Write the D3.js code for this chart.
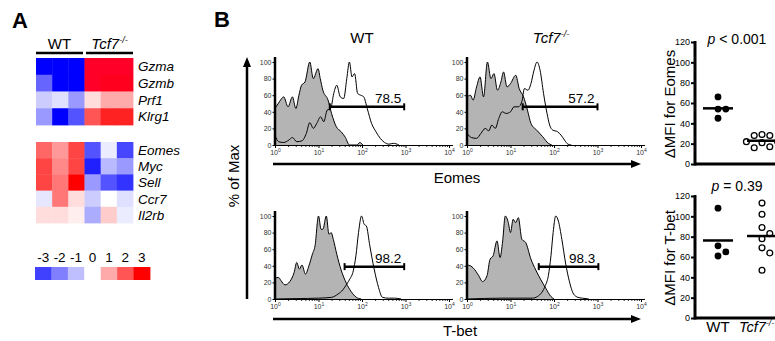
<!DOCTYPE html>
<html>
<head>
<meta charset="utf-8">
<script src="https://cdn.jsdelivr.net/npm/d3@7"></script>
<style>
  body { margin: 0; background: #fff; }
  svg { display: block; font-family: "Liberation Sans", Arial, sans-serif; }
</style>
</head>
<body>
<svg id="fig" width="775" height="341"></svg>
<script>
// Panel A heatmap: z-scores, columns are 3 WT then 3 Tcf7-/- samples
const samples = ['WT', 'WT', 'WT', 'Tcf7', 'Tcf7', 'Tcf7']
const effectorGenes = ['Gzma', 'Gzmb', 'Prf1', 'Klrg1']
const effectorZ = [
  [-4, -4, -4, 3.8, 3.8, 3.8],
  [-2.4, -4, -4, 3.8, 3.6, 3.6],
  [-0.8, -0.5, -1.6, 0.4, 1, 1],
  [-1.6, -4, -2.7, 2, 2.6, 2.6]
]
const memoryGenes = ['Eomes', 'Myc', 'Sell', 'Ccr7', 'Il2rb']
const memoryZ = [
  [1.8, 1.2, 2.2, -2.7, -0.3, -2.9],
  [2.2, 1.4, 2.2, -3.5, -1.1, -1.6],
  [2.2, 1.6, 3, -1.6, -2.7, -3.2],
  [-0.4, 1.6, 0.4, -0.8, 0, -0.5],
  [0.4, 0.4, 0.2, -1.3, 0.6, -0.3]
]
const legendSteps = [-3, -2, -1, 0, 1, 2, 3]

// Panel B histograms: [log10 fluorescence, % of max]
const eomesWTIso = [[0, 44], [0.1, 52], [0.2, 58], [0.3, 46], [0.4, 58], [0.48, 44], [0.55, 60], [0.61, 72], [0.69, 76], [0.8, 100], [0.88, 80], [0.99, 92], [1.04, 80], [1.1, 66], [1.22, 54], [1.3, 38], [1.41, 22], [1.52, 16], [1.62, 9], [1.71, 0], [1.88, 0], [1.95, 3], [2.02, 0]]
const eomesWTStain = [[0, 12], [0.08, 4], [0.2, 3], [0.32, 6], [0.4, 9], [0.5, 4], [0.62, 5], [0.72, 14], [0.8, 27], [0.88, 20], [0.96, 26], [1.05, 34], [1.12, 28], [1.2, 42], [1.28, 44], [1.35, 62], [1.42, 72], [1.5, 58], [1.58, 56], [1.65, 80], [1.71, 100], [1.77, 82], [1.83, 86], [1.9, 62], [1.97, 60], [2.04, 58], [2.12, 44], [2.22, 26], [2.32, 16], [2.42, 8], [2.52, 3], [2.62, 1], [2.72, 2], [2.85, 0]]
const eomesKOIso = [[0, 58], [0.08, 60], [0.14, 54], [0.22, 70], [0.3, 82], [0.38, 58], [0.47, 100], [0.55, 80], [0.62, 86], [0.7, 66], [0.78, 76], [0.84, 88], [0.92, 70], [1.0, 74], [1.12, 84], [1.2, 68], [1.3, 58], [1.39, 42], [1.47, 26], [1.6, 18], [1.74, 10], [1.87, 2], [1.95, 0]]
const eomesKOStain = [[0, 14], [0.1, 9], [0.22, 8], [0.32, 14], [0.42, 20], [0.5, 17], [0.57, 24], [0.65, 20], [0.73, 32], [0.81, 40], [0.9, 38], [1.0, 40], [1.08, 46], [1.18, 46], [1.26, 52], [1.32, 68], [1.4, 66], [1.47, 74], [1.54, 90], [1.61, 100], [1.68, 90], [1.76, 62], [1.84, 38], [1.9, 24], [1.97, 18], [2.08, 16], [2.16, 12], [2.24, 6], [2.32, 1], [2.4, 0]]
const tbetWTIso = [[0, 25], [0.08, 26], [0.14, 22], [0.23, 17], [0.34, 21], [0.44, 32], [0.5, 44], [0.56, 36], [0.62, 41], [0.7, 30], [0.78, 40], [0.86, 54], [0.92, 64], [1.0, 100], [1.06, 84], [1.1, 84], [1.18, 100], [1.24, 78], [1.29, 80], [1.34, 72], [1.42, 54], [1.52, 35], [1.64, 19], [1.75, 9], [1.87, 2], [1.98, 0]]
const tbetWTStain = [[0, 0], [0.5, 0.5], [1.0, 1], [1.3, 2], [1.45, 6], [1.56, 11], [1.65, 18], [1.72, 24], [1.8, 34], [1.86, 52], [1.92, 80], [1.99, 100], [2.05, 90], [2.1, 88], [2.18, 64], [2.28, 36], [2.38, 14], [2.47, 2], [2.6, 1], [2.75, 1], [2.9, 0]]
const tbetKOIso = [[0, 41], [0.08, 40], [0.15, 37], [0.26, 29], [0.36, 21], [0.46, 28], [0.53, 48], [0.6, 52], [0.69, 70], [0.76, 50], [0.82, 70], [0.88, 100], [0.95, 92], [1.0, 80], [1.06, 96], [1.12, 92], [1.18, 98], [1.26, 72], [1.35, 68], [1.47, 48], [1.58, 35], [1.7, 23], [1.81, 13], [1.93, 3], [2.0, 0]]
const tbetKOStain = [[0, 0], [0.8, 1], [1.5, 1], [1.62, 3], [1.72, 8], [1.8, 16], [1.87, 28], [1.93, 52], [1.98, 80], [2.04, 100], [2.1, 94], [2.18, 72], [2.27, 42], [2.35, 22], [2.45, 6], [2.55, 2], [2.65, 1], [2.8, 0]]

const gateLabels = ['78.5', '57.2', '98.2', '98.3']
const gateFrom = [1.26, 1.28, 1.6, 1.65] // log10
const gateTo = [2.97, 3.0, 2.97, 3.02]
const gateLevel = [46, 46, 39, 39] // % of max
const decades = [0, 1, 2, 3, 4]
const pctTicks = [0, 20, 40, 60, 80, 100]

// Panel B scatter: delta MFI per mouse
const eomesMfiWT = [66, 54, 54, 45]
const eomesMfiKO = [29, 28, 28, 22, 22, 21, 17, 16]
const tbetMfiWT = [108, 71, 65, 61]
const tbetMfiKO = [113, 102, 89, 83, 78, 69, 64, 47]
const mfiTicks = [0, 20, 40, 60, 80, 100, 120]
const pValues = ['< 0.001', '= 0.39']

const svg = d3.select('#fig')

// helper for "Tcf7-/-"
function tcf7(sel, size) {
  sel.append('tspan').style('font-style', 'italic').text('Tcf7')
  sel.append('tspan').style('font-style', 'italic').style('font-size', size * 0.6 + 'px')
    .attr('dy', -size * 0.42).text('-/-')
}

// ---------- Panel A ----------
svg.append('text').attr('x', 12).attr('y', 28)
  .style('font-weight', 'bold').style('font-size', '22px').text('A')

const colX = d3.scaleBand().domain(d3.range(samples.length)).range([36, 133])
const zColor = d3.scaleLinear()
  .domain([-4, 0, 3, 4])
  .range(['#0000ff', '#ffffff', '#ff0000', '#ff0033'])
  .clamp(true)

// group headers
const groupNames = ['WT', 'Tcf7']
groupNames.forEach((g, gi) => {
  const idx = samples.map((s, i) => s === g ? i : -1).filter(i => i >= 0)
  const x1 = colX(idx[0]) + (gi ? 1.5 : 0)
  const x2 = colX(idx[idx.length - 1]) + colX.bandwidth() - (gi ? 0 : 1.5)
  svg.append('line').attr('x1', x1).attr('x2', x2).attr('y1', 53).attr('y2', 53)
    .attr('stroke', '#000').attr('stroke-width', 2.5)
  const t = svg.append('text').attr('x', (x1 + x2) / 2).attr('y', 49)
    .attr('text-anchor', 'middle').style('font-size', '15px')
  if (g === 'WT') t.text('WT')
  else tcf7(t, 15)
})

function heatBlock(genes, z, top, bottom) {
  const rowY = d3.scaleBand().domain(genes).range([top, bottom])
  const rows = svg.append('g').selectAll('g').data(z).join('g')
    .attr('transform', (d, i) => `translate(0,${rowY(genes[i])})`)
  rows.selectAll('rect').data(d => d).join('rect')
    .attr('x', (d, i) => colX(i))
    .attr('width', colX.bandwidth() + 0.4)
    .attr('height', rowY.bandwidth() + 0.4)
    .attr('fill', d => zColor(d))
  svg.append('g').selectAll('text').data(genes).join('text')
    .attr('x', 138)
    .attr('y', d => rowY(d) + rowY.bandwidth() / 2)
    .attr('dy', '0.36em')
    .style('font-style', 'italic').style('font-size', '13.5px')
    .text(d => d)
}
heatBlock(effectorGenes, effectorZ, 58, 125)
heatBlock(memoryGenes, memoryZ, 142, 223)

// colour key
const keyX = d3.scaleBand().domain(legendSteps).range([35, 150])
svg.append('g').selectAll('rect').data(legendSteps).join('rect')
  .attr('x', d => keyX(d)).attr('y', 267)
  .attr('width', keyX.bandwidth() + 0.4).attr('height', 13)
  .attr('fill', d => zColor(d))
svg.append('g').selectAll('text').data(legendSteps).join('text')
  .attr('x', d => keyX(d) + keyX.bandwidth() / 2).attr('y', 262)
  .attr('text-anchor', 'middle').style('font-size', '13.5px')
  .text(d => d)

// ---------- Panel B histograms ----------
svg.append('text').attr('x', 214).attr('y', 27)
  .style('font-weight', 'bold').style('font-size', '22px').text('B')

const colLeft = [275, 467]
const rowBottom = [145, 299]
const histW = 174
const histH = 83

const panels = [
  { iso: eomesWTIso, stain: eomesWTStain, c: 0, r: 0 },
  { iso: eomesKOIso, stain: eomesKOStain, c: 1, r: 0 },
  { iso: tbetWTIso, stain: tbetWTStain, c: 0, r: 1 },
  { iso: tbetKOIso, stain: tbetKOStain, c: 1, r: 1 }
]

panels.forEach((p, i) => {
  const x = d3.scaleLinear().domain([0, 4]).range([colLeft[p.c], colLeft[p.c] + histW])
  const y = d3.scaleLinear().domain([0, 100]).range([rowBottom[p.r], rowBottom[p.r] - histH])
  const g = svg.append('g')

  const area = d3.area().x(d => x(d[0])).y0(y(0)).y1(d => y(d[1])).curve(d3.curveMonotoneX)
  const line = d3.line().x(d => x(d[0])).y(d => y(d[1])).curve(d3.curveMonotoneX)

  g.append('path').datum(p.iso).attr('d', area).attr('fill', '#b4b4b4')
  g.append('path').datum(p.iso).attr('d', line)
    .attr('fill', 'none').attr('stroke', '#000').attr('stroke-width', 1)
  g.append('path').datum(p.stain).attr('d', line)
    .attr('fill', 'none').attr('stroke', '#000').attr('stroke-width', 1)

  // minor log ticks
  const minor = []
  decades.slice(0, -1).forEach(dd => d3.range(2, 10).forEach(m => minor.push(dd + Math.log10(m))))
  g.append('g').attr('transform', `translate(0,${y(0)})`)
    .call(d3.axisBottom(x).tickValues(minor).tickSize(2).tickFormat(''))
    .call(a => a.select('.domain').remove())
    .selectAll('line').attr('stroke', '#333')

  const xa = g.append('g').attr('transform', `translate(0,${y(0)})`)
    .call(d3.axisBottom(x).tickValues(decades).tickSize(3).tickSizeOuter(0).tickPadding(2))
  xa.select('.domain').attr('d', `M${x(0)},0.5H${x(4) + 4}`).attr('stroke', '#000')
  xa.selectAll('.tick text')
    .style('font-size', '7px').attr('fill', '#333').text(null)
    .each(function(d) {
      const t = d3.select(this)
      t.append('tspan').text('10')
      t.append('tspan').attr('dy', -3).style('font-size', '5px').text(d)
    })

  const ya = g.append('g').attr('transform', `translate(${x(0)},0)`)
    .call(d3.axisLeft(y).tickValues(pctTicks).tickSize(2.5).tickSizeOuter(0).tickPadding(1))
  ya.select('.domain').attr('d', `M0,${y(0)}V${y(100) - 5}`)
    .attr('stroke', '#000').attr('stroke-width', 2.5)
  ya.selectAll('.tick text').style('font-size', '7px').attr('fill', '#333')

  // gate
  const gy = y(gateLevel[i])
  const gx1 = x(gateFrom[i])
  const gx2 = x(gateTo[i])
  g.append('line').attr('x1', gx1).attr('x2', gx2).attr('y1', gy).attr('y2', gy)
    .attr('stroke', '#000').attr('stroke-width', 2.5)
  ;[gx1, gx2].forEach(gx => {
    g.append('line').attr('x1', gx).attr('x2', gx).attr('y1', gy - 3.5).attr('y2', gy + 3.5)
      .attr('stroke', '#000').attr('stroke-width', 2)
  })
  g.append('text').attr('x', gx2 - 3).attr('y', gy - 4)
    .attr('text-anchor', 'end').style('font-size', '13.5px').text(gateLabels[i])
})

// column titles
svg.append('text').attr('x', 362).attr('y', 43).attr('text-anchor', 'middle')
  .style('font-size', '15px').text('WT')
tcf7(svg.append('text').attr('x', 551).attr('y', 43).attr('text-anchor', 'middle')
  .style('font-size', '15px'), 15)

// arrows
const arrow = svg.append('g').attr('fill', '#000').attr('stroke', '#000')
arrow.append('line').attr('x1', 247).attr('x2', 247).attr('y1', 299).attr('y2', 64)
  .attr('stroke-width', 2.5)
arrow.append('path').attr('d', 'M247,57L243,67L251,67Z').attr('stroke', 'none')
;[164, 319].forEach(yy => {
  arrow.append('line').attr('x1', 273).attr('x2', 633).attr('y1', yy).attr('y2', yy)
    .attr('stroke-width', 2.5)
  arrow.append('path').attr('d', `M641,${yy}L631,${yy - 4}L631,${yy + 4}Z`).attr('stroke', 'none')
})

svg.append('text').attr('transform', 'translate(239,176) rotate(-90)')
  .attr('text-anchor', 'middle').style('font-size', '15px').text('% of Max')
svg.append('text').attr('x', 457).attr('y', 183).attr('text-anchor', 'middle')
  .style('font-size', '15px').text('Eomes')
svg.append('text').attr('x', 460).attr('y', 336).attr('text-anchor', 'middle')
  .style('font-size', '15px').text('T-bet')

// ---------- Panel B scatter ----------
function dodge(values, y, r) {
  const placed = []
  const step = 2 * r + 1
  return values.map(v => {
    const py = y(v)
    let dx = 0
    for (const k of [0, 1, -1, 2, -2, 3, -3]) {
      dx = k * step
      if (placed.every(q => Math.hypot(q[0] - dx, q[1] - py) >= 2 * r + 0.5)) break
    }
    placed.push([dx, py])
    return [dx, py]
  })
}

function scatter(yb, wt, ko, pText, pShift, label, showX) {
  const y = d3.scaleLinear().domain([0, 120]).range([yb, yb - 122])
  const x = d3.scalePoint().domain(groupNames).range([696, 784]).padding(0.5)
  const g = svg.append('g')
  const r = 3.4

  // x axis
  g.append('line').attr('x1', 695).attr('x2', 790).attr('y1', yb).attr('y2', yb)
    .attr('stroke', '#000').attr('stroke-width', 3)

  const ya = g.append('g').attr('transform', 'translate(695,0)')
    .call(d3.axisLeft(y).tickValues(mfiTicks).tickSize(4).tickSizeOuter(0).tickPadding(1))
  ya.select('.domain').attr('d', `M0,${yb + 1.5}V${y(120) - 1}`)
    .attr('stroke', '#000').attr('stroke-width', 3)
  ya.selectAll('.tick line').attr('stroke-width', 2)
  ya.selectAll('.tick text').style('font-size', '9px').attr('fill', '#000')

  ;[wt, ko].forEach((vals, gi) => {
    const cx = x(groupNames[gi])
    const pos = dodge(vals, y, r)
    g.append('g').selectAll('circle').data(pos).join('circle')
      .attr('cx', d => cx + d[0]).attr('cy', d => d[1]).attr('r', gi ? r - 0.5 : r)
      .attr('fill', gi ? '#fff' : '#000')
      .attr('stroke', '#000').attr('stroke-width', gi ? 1.3 : 0)
    const m = y(d3.mean(vals))
    g.append('line').attr('x1', cx - 15).attr('x2', cx + 15).attr('y1', m).attr('y2', m)
      .attr('stroke', '#000').attr('stroke-width', 2.5)
  })

  const pt = g.append('text').attr('x', 737).attr('y', y(120) + pShift)
    .attr('text-anchor', 'middle').style('font-size', '14px')
  pt.append('tspan').style('font-style', 'italic').text('p')
  pt.append('tspan').text(' ' + pText)

  g.append('text').attr('transform', `translate(675,${(yb + y(120)) / 2 + 1}) rotate(-90)`)
    .attr('text-anchor', 'middle').style('font-size', '15px').text(label)

  if (showX) {
    g.append('text').attr('x', x('WT')).attr('y', yb + 14).attr('text-anchor', 'middle')
      .style('font-size', '15px').text('WT')
    tcf7(g.append('text').attr('x', 739).attr('y', yb + 14)
      .style('font-size', '14.5px'), 14.5)
  }
}

scatter(164, eomesMfiWT, eomesMfiKO, pValues[0], 2, 'ΔMFI for Eomes', false)
scatter(318, tbetMfiWT, tbetMfiKO, pValues[1], -5, 'ΔMFI for T-bet', true)
</script>
</body>
</html>
